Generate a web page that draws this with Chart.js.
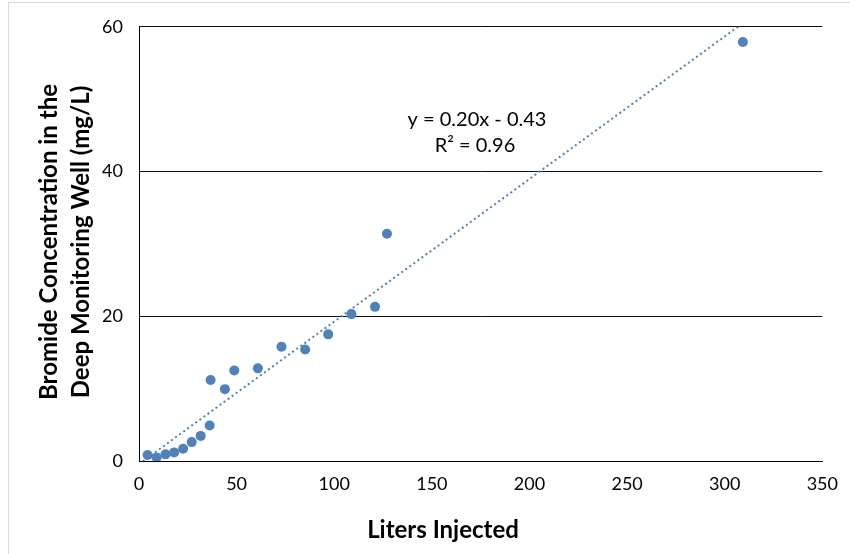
<!DOCTYPE html>
<html><head><meta charset="utf-8">
<script src="https://cdn.jsdelivr.net/npm/chart.js@4"></script>
<style>
html,body{margin:0;padding:0;background:#fff;overflow:hidden}
#wrap{position:relative;width:850px;height:554px}
#frame{position:absolute;left:8px;top:2px;right:-10px;bottom:-10px;border-top:1px solid #d9d9d9;border-left:1px solid #d9d9d9;pointer-events:none}
canvas{position:absolute;left:0;top:0}
</style></head><body>
<div id="wrap"><canvas id="c" width="850" height="554"></canvas><div id="frame"></div></div>
<script>
// Data
const litersInjected = [4.4, 9.0, 13.6, 18.0, 22.6, 27.0, 31.6, 36.2, 36.7, 44.0, 48.8, 60.9, 73.0, 85.1, 96.9, 108.8, 120.9, 127.0, 309.3];
const bromideConc    = [0.82, 0.5, 0.92, 1.19, 1.69, 2.61, 3.47, 4.90, 11.2, 9.93, 12.5, 12.8, 15.8, 15.4, 17.5, 20.3, 21.3, 31.4, 57.9];
const trendSlope = 0.197;
const trendIntercept = -0.43;
const trendRange = [2, 309.3];
const trendLabels = ['y = 0.20x - 0.43', 'R\u00b2 = 0.96'];
const xTitle = 'Liters Injected';
const yTitle = ['Bromide Concentration in the', 'Deep Monitoring Well (mg/L)'];
const xTicks = [0, 50, 100, 150, 200, 250, 300, 350];
const yTicks = [0, 20, 40, 60];

const FONT = 'Lato, "Open Sans", sans-serif';
const BLUE = '#4F81BD';

const points = litersInjected.map((x, i) => ({x: x, y: bromideConc[i]}));
const trend = trendRange.map(x => ({x: x, y: trendSlope * x + trendIntercept}));

const textPlugin = {
  id: 'texts',
  afterDraw(chart) {
    const ctx = chart.ctx;
    ctx.save();
    ctx.fillStyle = '#000';
    ctx.textAlign = 'center';
    ctx.textBaseline = 'alphabetic';
    // equation
    ctx.font = '20px ' + FONT;
    ctx.fillText(trendLabels[0], 477, 126);
    ctx.fillText(trendLabels[1], 475, 152);
    // x title
    ctx.font = 'bold 24px ' + FONT;
    ctx.fillText(xTitle, 443, 538);
    // y title
    ctx.translate(0, 242);
    ctx.rotate(-Math.PI / 2);
    ctx.fillText(yTitle[0], 0, 57);
    ctx.fillText(yTitle[1], 0, 89);
    ctx.restore();
  }
};

new Chart(document.getElementById('c'), {
  type: 'scatter',
  data: {
    datasets: [
      {
        data: points,
        backgroundColor: BLUE,
        borderColor: BLUE,
        borderWidth: 0,
        pointRadius: 5,
        pointHoverRadius: 5,
        order: 0
      },
      {
        type: 'line',
        data: trend,
        borderColor: BLUE,
        borderWidth: 2,
        borderDash: [2, 3],
        pointRadius: 0,
        fill: false,
        order: 1
      }
    ]
  },
  options: {
    responsive: false,
    animation: false,
    events: [],
    layout: {padding: {left: 0, right: 25, top: 24, bottom: 0}},
    plugins: {legend: {display: false}, tooltip: {enabled: false}},
    scales: {
      x: {
        type: 'linear',
        min: xTicks[0], max: xTicks[xTicks.length - 1],
        afterBuildTicks(s) { s.ticks = xTicks.map(v => ({value: v})); },
        afterFit(s) { s.height = 93; },
        grid: {display: false, drawTicks: false},
        border: {display: true, color: '#000', width: 1},
        ticks: {color: '#000', font: {family: FONT, size: 18}, padding: 12, maxRotation: 0}
      },
      y: {
        type: 'linear',
        min: yTicks[0], max: yTicks[yTicks.length - 1],
        afterBuildTicks(s) { s.ticks = yTicks.map(v => ({value: v})); },
        afterFit(s) { s.width = 139; },
        grid: {display: true, color: '#111', lineWidth: 1, drawTicks: false},
        border: {display: true, color: '#000', width: 1},
        ticks: {color: '#000', font: {family: FONT, size: 18}, padding: 16}
      }
    }
  },
  plugins: [textPlugin]
});
</script>
</body></html>
